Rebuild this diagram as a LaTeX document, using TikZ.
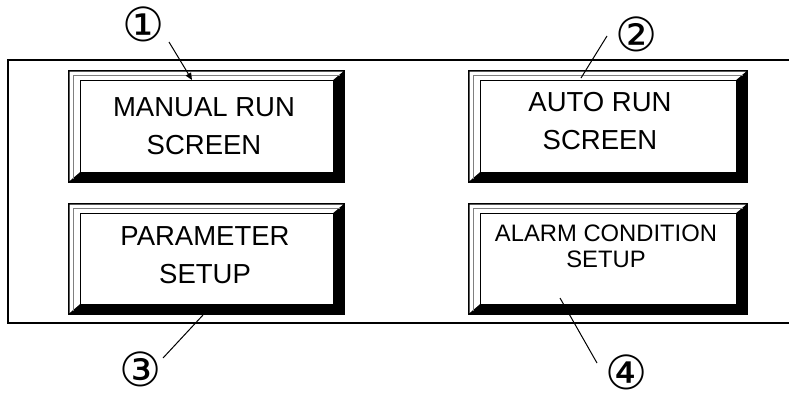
\documentclass[tikz,border=0pt]{standalone}
\usepackage{fontspec}
\setmainfont{Liberation Sans}
\newfontfamily\circfont{DejaVu Sans}
\usetikzlibrary{positioning}
\usetikzlibrary{arrows.meta}

% bevelled push button: (#2,#3) top left, (#4,#5) bottom right, #1 = centre name
\newcommand{\pushbtn}[5]{%
  \fill[black] (#2,#3) rectangle (#4,#5);
  \fill[white] (#2+1.5,#3+1.5) -- (#4-2,#3+1.5) -- (#4-12,#3+10) -- (#2+12,#3+10)
     -- (#2+12,#5-11) -- (#2+1.5,#5-2) -- cycle;
  \draw[gray, line width=0.8pt] (#2+5,#5-4) -- (#2+5,#3+5) -- (#4-5,#3+5);
  \draw[line width=1pt, fill=white] (#2+12,#3+10) rectangle (#4-12,#5-11);
  \coordinate (#1) at ({(#2+#4)/2},{(#3+#5)/2});
}

\begin{document}
\begin{tikzpicture}[x=1pt, y=-1pt,
    btntext/.style = {align=center, inner sep=0pt, font=\fontsize{27.5}{38}\selectfont},
    smalltext/.style = {align=center, inner sep=0pt, font=\fontsize{23.8}{26}\selectfont},
    numlbl/.style = {inner sep=0pt, font=\circfont\fontsize{47}{47}\selectfont},
    leader/.style = {line width=1pt}]
    \useasboundingbox (0,0) rectangle (789,392);

    % panel
    \draw[line width=2pt] (789,60) -- (8,60) -- (8,323) -- (789,323);

    % buttons
    \pushbtn{manualbtn}{68}{70}{345}{183}
    \pushbtn{autobtn}{468}{70}{748}{183}
    \pushbtn{parambtn}{68}{203}{345}{315}
    \pushbtn{alarmbtn}{468}{203}{748}{315}

    \node[btntext] (manual) at (204,126) {MANUAL RUN\\SCREEN};
    \node[btntext] (auto) at (600,121) {AUTO RUN\\SCREEN};
    \node[btntext] (param) at (205,255.5) {PARAMETER\\SETUP};
    \node[smalltext] (alarm) at (606,246) {ALARM CONDITION\\SETUP};

    % callout numbers
    \node[numlbl] (n1) at (144,24) {①};
    \node[numlbl] (n2) at (637,34) {②};
    \node[numlbl] (n3) at (141,369) {③};
    \node[numlbl] (n4) at (627,372) {④};

    \coordinate (p1) at (169,42);
    \coordinate (q1) at (192,80);
    \coordinate (p2) at (607,36);
    \coordinate (q2) at (581,78);
    \coordinate (p3) at (163,358);
    \coordinate (q3) at (203,315);
    \coordinate (p4) at (597,363);
    \coordinate (q4) at (560,298);

    \draw[leader, -{Triangle[length=7pt, width=6pt]}] (p1) -- (q1);
    \draw[leader] (p2) -- (q2);
    \draw[leader] (p3) -- (q3);
    \draw[leader] (p4) -- (q4);
\end{tikzpicture}
\end{document}
